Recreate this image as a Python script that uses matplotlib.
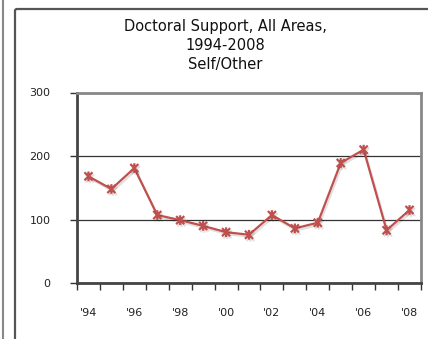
import numpy as np
import matplotlib
matplotlib.use("Agg")
import matplotlib.pyplot as plt
from matplotlib.path import Path
from matplotlib.patches import FancyBboxPatch
from matplotlib.lines import Line2D
import matplotlib.patheffects as pe

years = ["'94", "'95", "'96", "'97", "'98", "'99", "'00", "'01",
         "'02", "'03", "'04", "'05", "'06", "'07", "'08"]
support = [168, 148, 181, 107, 99, 90, 80, 76, 107, 86, 95, 189, 210, 83, 115]
yticks = [0, 100, 200, 300]

red = "#c0504d"

# excel-like star marker: X with a vertical bar
star = Path([(-1, -1), (1, 1), (-1, 1), (1, -1), (0, -1.2), (0, 1.2)],
            [Path.MOVETO, Path.LINETO, Path.MOVETO, Path.LINETO,
             Path.MOVETO, Path.LINETO])

fig = plt.figure(figsize=(4.28, 3.39), dpi=100)

# outer chart frame and neighbouring frame edge
fig.patches.append(FancyBboxPatch((15 / 428, -0.1), 1.0, 1.1 - 9 / 339,
                                  boxstyle="round,pad=0,rounding_size=0.005",
                                  transform=fig.transFigure, fill=False,
                                  edgecolor="#555555", linewidth=1.6))
fig.lines.append(Line2D([2.5 / 428, 2.5 / 428], [0, 1], transform=fig.transFigure,
                        color="#888888", linewidth=1.5))

ax = fig.add_axes([77 / 428, (339 - 283) / 339, 344 / 428, 190.5 / 339])
x = np.arange(len(years))
ax.plot(x, support, color=red, linewidth=1.6, marker=star, markersize=7,
        markeredgewidth=1.6, markeredgecolor=red,
        path_effects=[pe.SimpleLineShadow(offset=(1, -1.5), alpha=0.12), pe.Normal()])

ax.set_xlim(-0.5, len(years) - 0.5)
ax.set_ylim(0, 300)
ax.set_yticks(yticks)
ax.set_yticklabels([str(v) for v in yticks], fontsize=8, color="#222222")
ax.yaxis.grid(True, color="#333333", linewidth=0.9)
ax.set_axisbelow(True)

ax.set_xticks(np.arange(len(years) + 1) - 0.5, minor=False)
ax.set_xticklabels([])
ax.set_xticks(x[::2], minor=True)
ax.set_xticklabels(years[::2], minor=True, fontsize=8, color="#222222")
ax.tick_params(axis="x", which="major", length=5, width=1, color="#333333", direction="out")
ax.tick_params(axis="x", which="minor", length=0, pad=18)
ax.tick_params(axis="y", length=5, width=1, color="#333333", pad=14)

for s in ["left", "bottom"]:
    ax.spines[s].set_color("#444444")
    ax.spines[s].set_linewidth(2)
for s in ["top", "right"]:
    ax.spines[s].set_color("#888888")
    ax.spines[s].set_linewidth(2)

fig.text(225 / 428, 1 - 26 / 339, "Doctoral Support, All Areas,", ha="center", va="center",
         fontsize=10.5, color="#111111")
fig.text(225 / 428, 1 - 45 / 339, "1994-2008", ha="center", va="center",
         fontsize=10.5, color="#111111")
fig.text(225 / 428, 1 - 64 / 339, "Self/Other", ha="center", va="center",
         fontsize=10.5, color="#111111")

fig.savefig("out.png", dpi=100)
